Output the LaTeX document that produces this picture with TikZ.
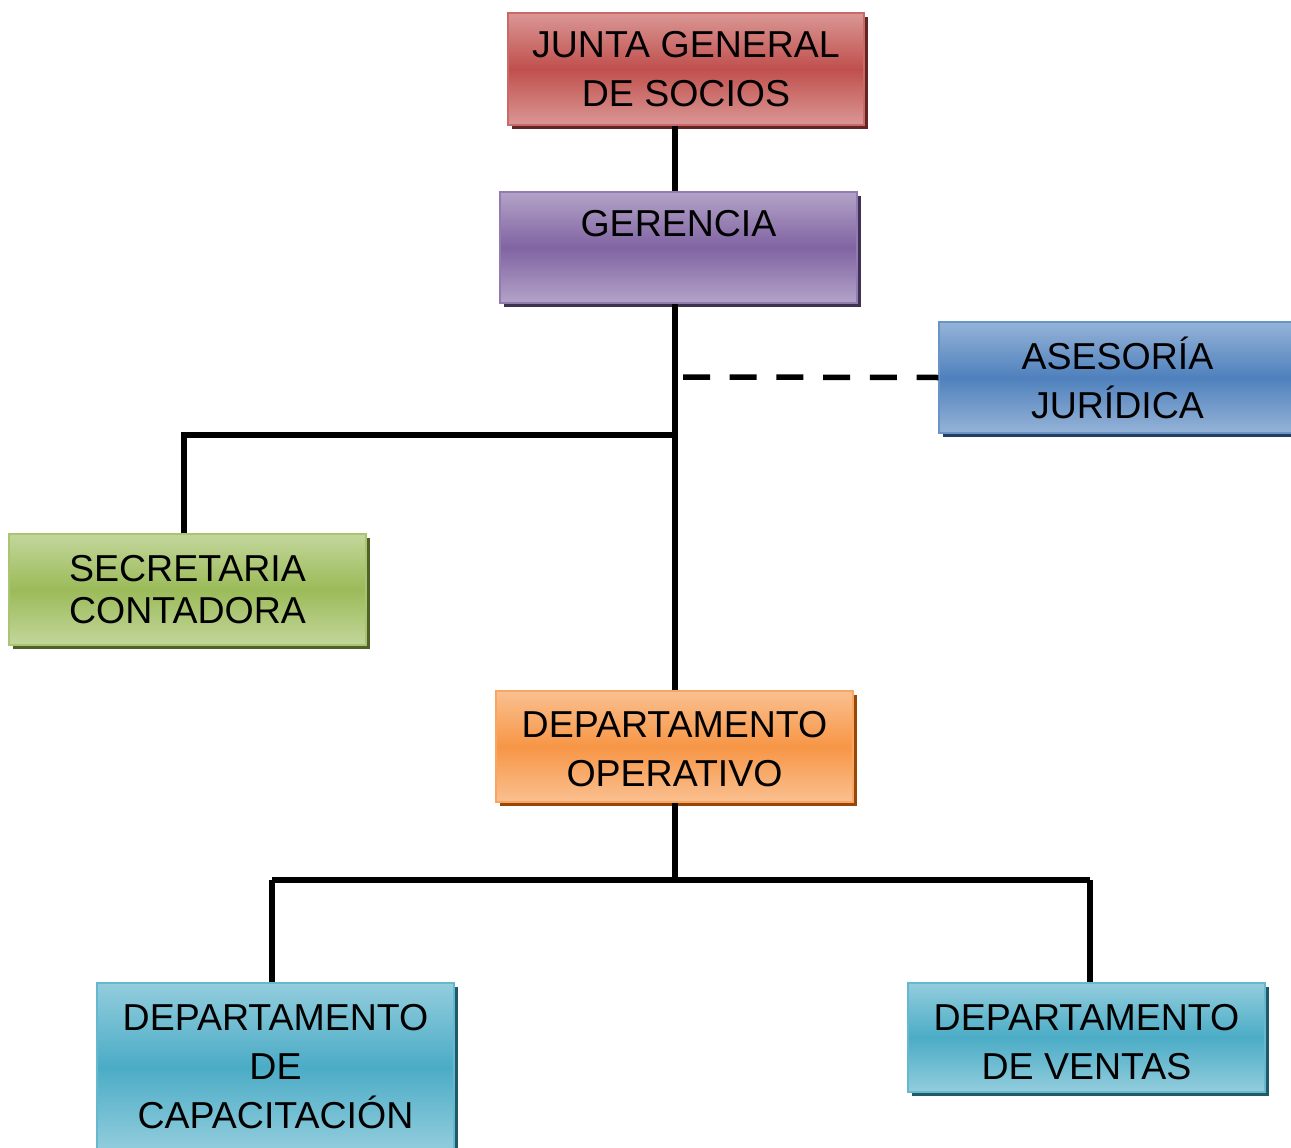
\documentclass[tikz,border=0pt]{standalone}
\usepackage{fontspec}
\setmainfont{Liberation Sans}
\usetikzlibrary{shadows}

% Office-style palette: light edge, saturated middle, dark shadow
\definecolor{redL}{HTML}{DA9795}\definecolor{redM}{HTML}{C0504D}\definecolor{redS}{HTML}{632523}
\definecolor{purL}{HTML}{B3A3C8}\definecolor{purM}{HTML}{8064A2}\definecolor{purS}{HTML}{3F3151}
\definecolor{bluL}{HTML}{95B3D7}\definecolor{bluM}{HTML}{4F81BD}\definecolor{bluS}{HTML}{243F60}
\definecolor{grnL}{HTML}{C3D69B}\definecolor{grnM}{HTML}{9BBB59}\definecolor{grnS}{HTML}{4F6228}
\definecolor{orgL}{HTML}{FAC090}\definecolor{orgM}{HTML}{F79646}\definecolor{orgS}{HTML}{974806}
\definecolor{aquL}{HTML}{93CDDD}\definecolor{aquM}{HTML}{4BACC6}\definecolor{aquS}{HTML}{215968}

\tikzset{
  unit/.style n args={3}{
    rectangle, draw=#2!85!white, line width=1.5pt,
    top color=#1, bottom color=#1, middle color=#2,
    drop shadow={fill=#3, opacity=1, shadow xshift=4pt, shadow yshift=-4pt},
    minimum width=357pt, minimum height=111pt, inner sep=0pt,
    align=center, font=\fontsize{37.5}{49}\selectfont
  },
  link/.style={line width=5.5pt, black},
  advice/.style={line width=5.5pt, black, dash pattern=on 27pt off 19.7pt}
}

\begin{document}
\begin{tikzpicture}[x=1pt, y=-1pt]
  \useasboundingbox (0,0) rectangle (1291,1148);

  % organisation units
  \node[unit={redL}{redM}{redS}, minimum width=356pt, minimum height=112pt] (junta) at (686,69) {JUNTA GENERAL\\DE SOCIOS};
  \node[unit={purL}{purM}{purS}] (gerencia) at (678.5,247.5) {GERENCIA\\\mbox{}};
  \node[unit={bluL}{bluM}{bluS}] (asesoria) at (1117.5,377.5) {ASESORÍA\\JURÍDICA};
  \node[unit={grnL}{grnM}{grnS}, font=\fontsize{37.5}{42}\selectfont] (secretaria) at (187.5,589.5) {SECRETARIA\\CONTADORA};
  \node[unit={orgL}{orgM}{orgS}] (operativo) at (674.5,746.5) {\rule{0pt}{31pt}DEPARTAMENTO\\OPERATIVO};
  \node[unit={aquL}{aquM}{aquS}, minimum height=168pt] (capacitacion) at (275.5,1067) {DEPARTAMENTO\\DE\\CAPACITACIÓN};
  \node[unit={aquL}{aquM}{aquS}, minimum height=109pt] (ventas) at (1086.5,1037.5) {\rule{0pt}{35pt}DEPARTAMENTO\\DE VENTAS};

  % junction points of the tree
  \coordinate (spine) at (675,435);
  \coordinate (advicept) at (683,377);
  \coordinate (secx) at (184,435);
  \coordinate (opbus) at (675,880);
  \coordinate (capx) at (272,880);
  \coordinate (venx) at (1090,880);

  % connectors
  \draw[link] (junta.south -| 675,0) -- (gerencia.north -| 675,0);
  \draw[link] (gerencia.south -| 675,0) -- (operativo.north -| 675,0);
  \draw[advice] (advicept) -- (asesoria.west);
  \draw[link] (spine) -- (secx) -- (secx |- secretaria.north);
  \draw[link] (operativo.south -| 675,0) -- (opbus);
  \draw[link] (capx) -- (venx);
  \draw[link] (capx) -- (capx |- capacitacion.north);
  \draw[link] (venx) -- (venx |- ventas.north);
\end{tikzpicture}
\end{document}
